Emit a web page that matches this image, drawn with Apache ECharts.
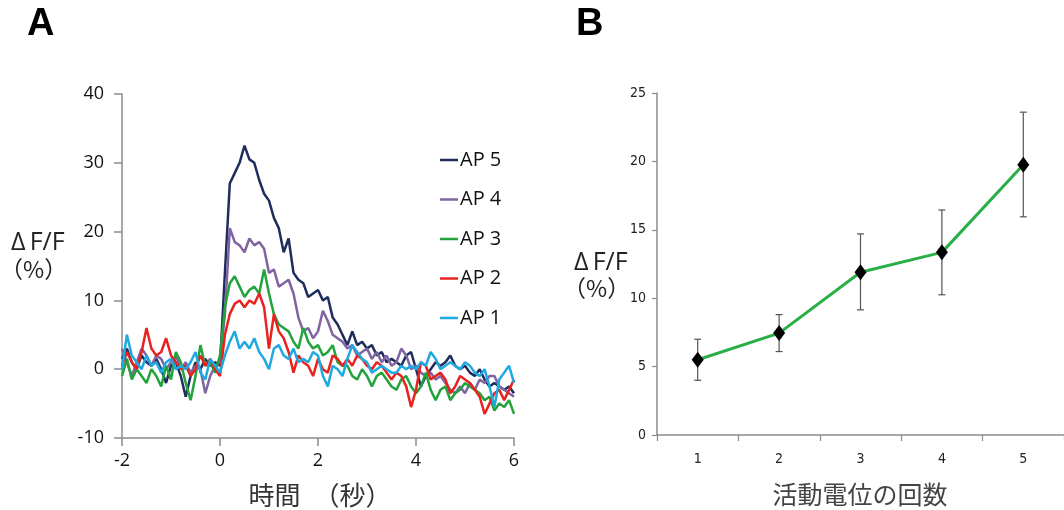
<!DOCTYPE html>
<html><head><meta charset="utf-8">
<script src="https://cdn.jsdelivr.net/npm/echarts@6/dist/echarts.min.js"></script>
<style>html,body{margin:0;padding:0;background:#fff}#c{width:1064px;height:510px}</style>
</head><body><div id="c"></div>
<script>
// Panel A: time axis (s)
const times = [-2.0,-1.9,-1.8,-1.7,-1.6,-1.5,-1.4,-1.3,-1.2,-1.1,-1.0,-0.9,-0.8,-0.7,-0.6,-0.5,-0.4,-0.3,-0.2,-0.1,
 0.0,0.1,0.2,0.3,0.4,0.5,0.6,0.7,0.8,0.9,1.0,1.1,1.2,1.3,1.4,1.5,1.6,1.7,1.8,1.9,
 2.0,2.1,2.2,2.3,2.4,2.5,2.6,2.7,2.8,2.9,3.0,3.1,3.2,3.3,3.4,3.5,3.6,3.7,3.8,3.9,
 4.0,4.1,4.2,4.3,4.4,4.5,4.6,4.7,4.8,4.9,5.0,5.1,5.2,5.3,5.4,5.5,5.6,5.7,5.8,5.9,6.0];
const ap5 = [1.5,3,1,0,2,1,0.5,1.5,0,-2,0.5,1,-1,-4,-1,1,0,1.5,0.5,1,
 0.5,14,27,28.5,30,32.5,30.5,30,27.5,25.5,24.5,22,20.5,17,19,14,13,12.5,10.5,11,
 11.5,10,10.5,7.5,6.5,5,3.5,5.5,3.5,4,3,3.5,2,2.5,1,1.5,1,0.5,2,2.5,
 0,-2.5,-1,0,1,0.5,1,2,0.5,0,0.5,-0.5,-1,0,-1.5,-2.5,-2,-2.5,-3,-2.5,-3.5];
const ap4 = [3,1,-1,1,3,2,0.5,2,1.5,0,1,2,0,1,-0.5,0.5,0,-3.5,-1,0.5,
 1,8,20.5,18.5,18,17,19,18,18.5,17.5,14,14.5,12,12.5,13,11,7.5,5.5,6,4.5,
 5.5,8.5,7,5,4.5,4,3,3.5,2,2.5,3,1.5,2.5,1,2,0.5,1,3,2,0,
 0.5,-0.5,-1,-0.5,-1.5,-1,-2,-3,-3.5,-2.5,-3.5,-2,-3,-1.5,-2,-1,-1,-2.5,-3,-3.5,-4];
const ap3 = [-1,1.5,-1.5,0,-1,-2,0,-1,-2.5,0.5,-1.5,2.5,1,-2,-4.5,-1,3.5,0.5,1,-0.5,
 2,9,12.5,13.5,12,10.5,11.5,12,11,14.5,11,8,6.5,6,5.5,4,3,6,4,3,
 3.5,2,2.5,3.5,1,0.5,0.5,-1,-1.5,0,-1,-2.5,-1,-0.5,-1.5,-2.5,-3,-1.5,-1,-2.5,
 -3.5,-2.5,-0.5,-3,-4.5,-3,-2.5,-4.5,-3.5,-3,-2,-2.5,-3,-3.5,-4.5,-4,-6,-5,-5.5,-4.5,-6.5];
const ap2 = [0.5,2.5,1,0,2.5,6,3,2,2.5,4.5,2,1,0,0.5,-1,0,2,0.5,1.5,0,
 -1,5,8,9.5,10,9,10,9.5,11,9,3,8,5.5,4.5,2.5,-0.5,2,1,0.5,-1,
 1.5,0,-0.5,2,1.5,0.5,1.5,0.5,2,1.5,0.5,0,1,0.5,-0.5,-1.5,-0.5,-1,-2.5,-5.5,
 -3,1,0.5,-1.5,-1,-0.5,-1.5,-3.5,-2.5,-1,-1.5,-2,-3,-4,-6.5,-5,-3.5,-3,-4.5,-3,-1.5];
const ap1 = [0,5,2,1,0,2,0.5,1,-0.5,1,1.5,0,0.5,0,1,2.5,-0.5,-1.5,1.5,0.5,
 -0.5,2,4,5.5,3,4,3,4.5,2.5,1.5,0,3,3.5,2,1.5,3,1,1.5,1,2.5,
 2,-1,-2.5,0.5,0,-1,1.5,3.5,2.5,1.5,1,-0.5,0,0.5,0,-0.5,-0.5,0.5,0,0.5,
 0,1,0.5,2.5,1.5,0,0.5,1,0.5,0,1,0.5,-0.5,-1,0,-2.5,-5.5,-1.5,-0.5,0.5,-2];
const seriesNames = ['AP 5','AP 4','AP 3','AP 2','AP 1'];
const seriesColors = ['#1f2d5c','#8064a2','#22a33c','#e8231f','#1ea9e1'];

// Panel B
const apCounts = ['1','2','3','4','5'];
const meanB = [5.5,7.45,11.9,13.35,19.75];
const errLowB = [4.0,6.1,9.15,10.25,15.95];
const errHighB = [7.0,8.8,14.7,16.45,23.6];

const traces = [ap5,ap4,ap3,ap2,ap1];
const pair = arr => times.map((t,i)=>[t,arr[i]]);
const jp = '"Noto Sans CJK JP","Noto Sans",sans-serif';
const lat = '"Open Sans","Noto Sans",sans-serif';
const narrow = '"Liberation Sans Narrow","DejaVu Sans Condensed","Open Sans",sans-serif';

const chart = echarts.init(document.getElementById('c'), null, {renderer:'canvas'});
const axisGray = '#8c8c8c';
chart.setOption({
  animation:false,
  backgroundColor:'#fff',
  grid:[
    {left:122, top:94, width:392, height:344},
    {left:657, top:93, width:415, height:342}
  ],
  xAxis:[
    {gridIndex:0, type:'value', min:-2, max:6, interval:2, splitLine:{show:false},
     axisLine:{onZero:false, lineStyle:{color:axisGray, width:1.5}},
     axisTick:{show:true, length:8, lineStyle:{color:axisGray, width:1.5}},
     axisLabel:{margin:14, fontSize:18, color:'#111', fontFamily:lat}},
    {gridIndex:1, type:'category', data:apCounts, boundaryGap:true,
     axisLine:{onZero:false, lineStyle:{color:axisGray, width:1.5}},
     axisTick:{show:true, length:6, lineStyle:{color:axisGray, width:1.2}},
     axisLabel:{margin:17, fontSize:14, color:'#222', fontFamily:narrow}}
  ],
  yAxis:[
    {gridIndex:0, type:'value', min:-10, max:40, interval:10, splitLine:{show:false},
     axisLine:{show:true, onZero:false, lineStyle:{color:axisGray, width:1.5}},
     axisTick:{show:true, length:8, lineStyle:{color:axisGray, width:1.5}},
     axisLabel:{margin:18, fontSize:18, color:'#111', fontFamily:lat}},
    {gridIndex:1, type:'value', min:0, max:25, interval:5, splitLine:{show:false},
     axisLine:{show:true, onZero:false, lineStyle:{color:axisGray, width:1.5}},
     axisTick:{show:true, length:5, lineStyle:{color:axisGray, width:1.2}},
     axisLabel:{margin:11, fontSize:14, color:'#222', fontFamily:narrow}}
  ],
  legend:{
    data:seriesNames, orient:'vertical', left:435, top:145, itemGap:19.5,
    icon:'rect', itemWidth:18, itemHeight:2.5,
    textStyle:{fontSize:20, color:'#111', fontFamily:lat, lineHeight:20, padding:[0,0,0,-3]}
  },
  series:[
    ...traces.map((arr,k)=>({
      name:seriesNames[k], type:'line', xAxisIndex:0, yAxisIndex:0,
      data:pair(arr), showSymbol:false, symbol:'none', smooth:false,
      color:seriesColors[k], lineStyle:{color:seriesColors[k], width:2.5}, z:2+k
    })),
    {type:'custom', xAxisIndex:1, yAxisIndex:1, z:5,
     data:apCounts.map((c,i)=>[i, errLowB[i], errHighB[i]]),
     renderItem:(params, api)=>{
       const lo = api.coord([api.value(0), api.value(1)]);
       const hi = api.coord([api.value(0), api.value(2)]);
       const w = 3.5, st = {stroke:'#555', lineWidth:1.2};
       return {type:'group', children:[
         {type:'line', shape:{x1:lo[0],y1:lo[1],x2:hi[0],y2:hi[1]}, style:st},
         {type:'line', shape:{x1:lo[0]-w,y1:lo[1],x2:lo[0]+w,y2:lo[1]}, style:st},
         {type:'line', shape:{x1:hi[0]-w,y1:hi[1],x2:hi[0]+w,y2:hi[1]}, style:st}
       ]};
     }},
    {type:'line', xAxisIndex:1, yAxisIndex:1, data:meanB, z:10,
     symbol:'diamond', symbolSize:[12,16], showSymbol:true,
     lineStyle:{color:'#2aae47', width:3}, itemStyle:{color:'#000'}}
  ],
  graphic:[
    {type:'text', left:27, top:6, style:{text:'A', font:'bold 38px "Liberation Sans",Arial,sans-serif', fill:'#000'}},
    {type:'text', left:576, top:6, style:{text:'B', font:'bold 38px "Liberation Sans",Arial,sans-serif', fill:'#000'}},
    {type:'text', left:11, top:230, style:{text:'Δ\u2009F/F', font:'25px '+lat, fill:'#222'}},
    {type:'text', left:0, top:258, style:{text:'（%）', font:'23px '+jp, fill:'#222'}},
    {type:'text', left:574, top:250, style:{text:'Δ\u2009F/F', font:'25px '+lat, fill:'#222'}},
    {type:'text', left:563, top:277, style:{text:'（%）', font:'23px '+jp, fill:'#222'}},
    {type:'text', x:320, y:495, style:{text:'時間　（秒）', font:'26px '+jp, fill:'#333', align:'center', verticalAlign:'middle'}},
    {type:'text', x:860, y:494, style:{text:'活動電位の回数', font:'25px '+jp, fill:'#444', align:'center', verticalAlign:'middle'}}
  ]
});
</script></body></html>
